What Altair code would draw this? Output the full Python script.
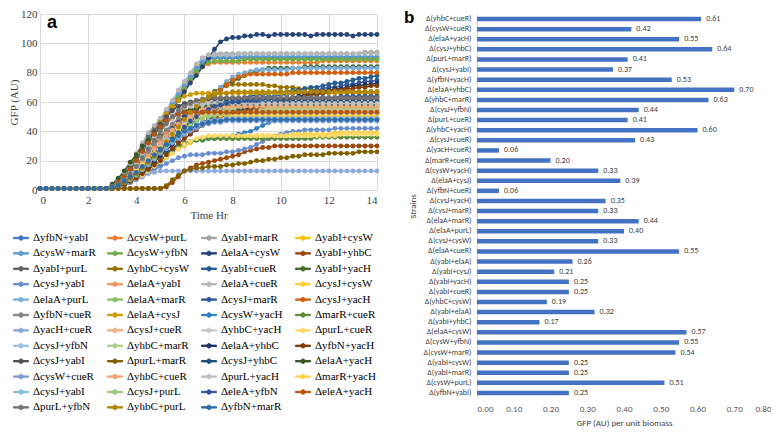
import altair as alt
import pandas as pd

TIME_HR = [i / 4 for i in range(57)]

STRAINS = [
    "ΔyfbN+yabI", "ΔcysW+purL", "ΔyabI+marR", "ΔyabI+cysW",
    "ΔcysW+marR", "ΔcysW+yfbN", "ΔelaA+cysW", "ΔyabI+yhbC",
    "ΔyabI+purL", "ΔyhbC+cysW", "ΔyabI+cueR", "ΔyabI+yacH",
    "ΔcysJ+yabI", "ΔelaA+yabI", "ΔelaA+cueR", "ΔcysJ+cysW",
    "ΔelaA+purL", "ΔelaA+marR", "ΔcysJ+marR", "ΔcysJ+yacH",
    "ΔyfbN+cueR", "ΔelaA+cysJ", "ΔcysW+yacH", "ΔmarR+cueR",
    "ΔyacH+cueR", "ΔcysJ+cueR", "ΔyhbC+yacH", "ΔpurL+cueR",
    "ΔcysJ+yfbN", "ΔyhbC+marR", "ΔelaA+yhbC", "ΔyfbN+yacH",
    "ΔcysJ+yabI~2", "ΔpurL+marR", "ΔcysJ+yhbC", "ΔelaA+yacH",
    "ΔcysW+cueR", "ΔyhbC+cueR", "ΔpurL+yacH", "ΔmarR+yacH",
    "ΔcysJ+yabI~3", "ΔcysJ+purL", "ΔeleA+yfbN", "ΔeleA+yacH",
    "ΔpurL+yfbN", "ΔyhbC+purL", "ΔyfbN+marR",
]

COLORS = [
    "#4472C4", "#ED7D31", "#A5A5A5", "#FFC000", "#5B9BD5", "#70AD47",
    "#264478", "#9E480E", "#636363", "#997300", "#255E91", "#43682B",
    "#698ED0", "#F1975A", "#B7B7B7", "#FFCD33", "#7CAFDD", "#8CC168",
    "#335AA1", "#D26012", "#848484", "#CC9A00", "#327DC2", "#5A8A39",
    "#8FAADC", "#F4B183", "#C9C9C9", "#FFD966", "#9DC3E6", "#A9D18E",
    "#203864", "#843C0C", "#525252", "#7F6000", "#1F4E79", "#385723",
    "#7F9CD5", "#F3A675", "#C0C0C0", "#FFD34D", "#8CB9E2", "#9BC97F",
    "#2F5597", "#B85310", "#747474", "#B38600", "#2C6DAA",
]

GFP = [
    [1,1,1,1, 1,1,1,1, 1,1,1,1,
     3,6,10,15, 21,28,34,40, 46,51,57,63, 69,75,81,86,
     89,90,90,90, 90,90,90,90, 90,90,90,90, 90,90,90,90, 90,90,90,90, 90,90,90,90, 90,90,90,90, 90],
    [1,1,1,1, 1,1,1,1, 1,1,1,1,
     2,5,9,14, 20,26,33,39, 45,50,56,62, 68,74,80,84,
     86,87,87,87, 87,87,87,87, 87,87,87,87, 87,87,87,87, 87,87,87,88, 88,88,88,88, 88,88,88,88, 88],
    [1,1,1,1, 1,1,1,1, 1,1,1,1,
     3,6,11,17, 24,31,38,43, 48,54,60,66, 72,79,85,90,
     92,93,93,93, 93,93,93,93, 93,93,93,93, 93,93,93,93, 93,93,93,93, 93,93,93,93, 93,93,94,94, 94],
    [1,1,1,1, 1,1,1,1, 1,1,1,1,
     2,4,7,10, 14,18,22,26, 30,34,38,41, 44,46,48,49,
     50,50,50,50, 50,50,50,50, 50,50,50,50, 50,50,50,50, 50,50,50,50, 50,50,50,50, 50,50,50,50, 50],
    [1,1,1,1, 1,1,1,1, 1,1,1,1,
     3,6,10,16, 22,29,36,42, 47,53,59,65, 71,77,83,88,
     90,91,91,91, 91,91,91,91, 91,91,91,91, 91,91,91,91, 91,91,91,91, 91,91,91,91, 91,91,91,91, 91],
    [1,1,1,1, 1,1,1,1, 1,1,1,1,
     2,5,9,14, 20,27,34,40, 45,51,57,63, 69,75,81,85,
     87,88,88,88, 88,88,89,89, 89,89,89,89, 89,89,89,89, 89,89,89,89, 89,89,89,89, 89,89,89,89, 89],
    [1,1,1,1, 1,1,1,1, 1,1,1,1,
     2,5,9,14, 20,26,32,38, 44,50,55,61, 67,73,78,84,
     90,96,101,103, 104,104,105,105, 106,106,105,106, 106,106,106,106, 106,105,106,106, 106,106,106,106, 105,106,106,106, 106],
    [1,1,1,1, 1,1,1,1, 1,1,1,1,
     1,1,1,1, 1,1,1,1, 1,2,5,9, 13,15,17,18,
     19,20,21,22, 23,24,26,27, 28,29,29,30, 30,30,30,30, 30,30,30,30, 30,30,30,30, 30,30,30,30, 30],
    [1,1,1,1, 1,1,1,1, 1,1,1,1,
     3,6,10,15, 22,30,37,43, 48,52,55,57, 58,59,59,60,
     60,60,60,60, 60,60,60,60, 60,60,60,60, 60,60,60,60, 60,60,60,60, 60,60,60,60, 60,60,60,60, 60],
    [1,1,1,1, 1,1,1,1, 1,1,1,1,
     1,2,3,5, 8,12,16,20, 25,30,35,40, 45,50,55,60,
     64,67,69,71, 72,72,72,72, 72,72,71,71, 70,70,70,69, 69,69,68,68, 68,68,68,68, 67,67,67,67, 67],
    [1,1,1,1, 1,1,1,1, 1,1,1,1,
     2,3,5,8, 11,14,18,22, 26,30,34,38, 42,45,48,51,
     54,56,58,60, 61,62,63,64, 65,65,66,66, 67,67,68,68, 69,70,70,71, 72,73,73,74, 75,76,76,77, 78],
    [1,1,1,1, 1,1,1,1, 1,1,1,1,
     3,7,11,16, 22,26,30,34, 37,40,43,46, 50,53,56,59,
     63,67,70,72, 74,76,78,80, 81,82,83,83, 83,83,83,83, 84,84,84,84, 84,84,84,84, 84,84,84,84, 84],
    [1,1,1,1, 1,1,1,1, 1,1,1,1,
     2,3,4,6, 8,10,12,14, 16,18,20,22, 23,24,24,24,
     25,25,25,26, 26,27,28,29, 31,33,35,37, 38,39,40,40, 41,41,41,41, 41,42,42,42, 42,42,42,42, 42],
    [1,1,1,1, 1,1,1,1, 1,1,1,1,
     2,4,7,11, 15,20,25,30, 35,39,43,47, 50,52,53,54,
     55,55,55,55, 55,55,55,55, 55,55,55,55, 55,55,55,55, 55,55,55,55, 55,55,55,55, 55,55,55,55, 55],
    [1,1,1,1, 1,1,1,1, 1,1,1,1,
     3,7,12,18, 25,32,39,44, 49,55,61,68, 74,80,86,90,
     92,92,92,92, 92,93,93,93, 93,93,93,93, 93,93,93,93, 93,93,93,93, 93,93,93,93, 93,93,93,93, 93],
    [1,1,1,1, 1,1,1,1, 1,1,1,1,
     2,3,5,6, 8,11,14,17, 20,23,25,28, 30,32,34,35,
     36,36,36,36, 36,36,36,36, 37,37,37,37, 37,37,38,38, 38,38,38,38, 38,39,39,39, 39,39,39,39, 39],
    [1,1,1,1, 1,1,1,1, 1,1,1,1,
     2,4,7,10, 14,18,22,26, 30,34,38,42, 46,50,54,58,
     62,66,70,74, 77,79,80,81, 82,82,82,82, 82,82,83,83, 83,83,83,83, 83,83,83,83, 83,83,83,83, 83],
    [1,1,1,1, 1,1,1,1, 1,1,1,1,
     2,3,5,8, 11,15,19,23, 27,31,35,39, 43,46,49,51,
     53,54,55,55, 56,56,56,56, 56,56,56,56, 56,56,56,56, 56,56,56,56, 56,56,56,56, 56,56,56,56, 56],
    [1,1,1,1, 1,1,1,1, 1,1,1,1,
     2,3,5,7, 10,13,17,21, 25,29,33,37, 41,44,47,50,
     52,54,56,58, 59,60,61,62, 63,63,64,64, 65,65,66,66, 67,67,68,69, 70,70,71,72, 72,73,74,74, 75],
    [1,1,1,1, 1,1,1,1, 1,1,1,1,
     2,4,6,9, 12,15,19,23, 27,31,35,39, 44,48,52,56,
     60,64,68,72, 75,77,78,79, 79,79,79,79, 79,79,80,80, 80,80,80,80, 80,80,80,80, 80,80,80,80, 80],
    [1,1,1,1, 1,1,1,1, 1,1,1,1,
     2,4,7,11, 16,21,26,31, 36,41,45,49, 52,54,56,57,
     58,58,58,58, 58,58,58,58, 58,58,58,58, 58,58,58,58, 58,58,58,58, 58,58,58,58, 58,58,58,58, 58],
    [1,1,1,1, 1,1,1,1, 1,1,1,1,
     2,5,9,14, 20,27,33,40, 46,52,57,61, 64,65,66,66,
     66,66,66,66, 66,66,66,66, 66,66,66,66, 66,66,66,66, 66,66,66,66, 66,66,66,66, 66,66,66,66, 66],
    [1,1,1,1, 1,1,1,1, 1,1,1,1,
     1,2,3,5, 7,9,12,15, 18,22,26,29, 31,33,34,34,
     35,35,36,36, 37,38,39,40, 42,44,46,47, 47,48,48,48, 48,48,48,48, 48,48,48,48, 48,48,48,48, 48],
    [1,1,1,1, 1,1,1,1, 1,1,1,1,
     2,4,6,9, 12,15,18,21, 24,26,28,30, 32,33,34,34,
     35,35,35,35, 35,35,35,35, 35,35,35,35, 35,35,35,35, 35,35,36,36, 36,36,36,36, 36,36,36,36, 36],
    [1,1,1,1, 1,1,1,1, 1,1,1,1,
     1,2,3,5, 7,9,11,12, 13,13,13,13, 13,13,13,13,
     13,13,13,13, 13,13,13,13, 13,13,13,13, 13,13,13,13, 13,13,13,13, 13,13,13,13, 13,13,13,13, 13],
    [1,1,1,1, 1,1,1,1, 1,1,1,1,
     2,3,6,9, 13,17,21,26, 30,35,39,43, 46,49,51,52,
     53,53,54,54, 54,54,54,54, 54,54,54,54, 54,54,54,54, 54,54,54,54, 54,54,54,54, 54,54,54,54, 54],
    [1,1,1,1, 1,1,1,1, 1,1,1,1,
     3,5,9,13, 19,25,31,37, 42,47,51,55, 58,59,60,60,
     61,61,61,61, 61,61,61,61, 61,61,61,61, 61,61,61,61, 61,61,61,61, 61,61,61,61, 61,61,61,61, 61],
    [1,1,1,1, 1,1,1,1, 1,1,1,1,
     2,3,4,6, 8,10,13,16, 19,22,25,28, 31,33,35,36,
     37,37,37,37, 37,37,37,37, 37,37,37,37, 37,37,37,37, 37,37,37,37, 37,37,38,38, 38,38,38,38, 38],
    [1,1,1,1, 1,1,1,1, 1,1,1,1,
     2,4,7,10, 14,18,22,27, 31,35,39,42, 45,47,49,50,
     51,51,52,52, 52,52,52,52, 52,52,52,52, 52,52,52,52, 52,52,52,52, 52,52,52,52, 52,52,52,52, 52],
    [1,1,1,1, 1,1,1,1, 1,1,1,1,
     2,4,6,9, 12,16,20,24, 28,32,36,40, 44,47,49,51,
     52,53,54,54, 55,55,55,55, 55,55,55,55, 55,55,55,55, 55,55,55,55, 55,55,55,55, 55,55,55,55, 55],
    [1,1,1,1, 1,1,1,1, 1,1,1,1,
     2,3,4,6, 9,12,15,19, 23,27,31,35, 38,41,44,46,
     48,50,51,52, 53,54,55,56, 57,58,59,60, 61,62,63,64, 65,66,66,67, 68,69,69,70, 71,71,72,72, 73],
    [1,1,1,1, 1,1,1,1, 1,1,1,1,
     1,2,4,6, 8,11,14,17, 20,24,28,32, 35,38,41,44,
     46,48,50,51, 52,53,54,55, 56,57,58,59, 60,61,62,63, 64,65,65,66, 67,68,68,69, 69,70,70,71, 71],
    [1,1,1,1, 1,1,1,1, 1,1,1,1,
     2,5,9,14, 20,27,34,40, 45,50,54,57, 59,60,61,61,
     62,62,62,62, 62,62,62,62, 62,62,62,62, 62,62,62,62, 62,62,62,62, 62,62,62,62, 62,62,62,62, 62],
    [1,1,1,1, 1,1,1,1, 1,1,1,1,
     1,1,1,1, 1,1,1,1, 1,3,7,10, 13,14,15,15,
     16,16,16,17, 17,18,18,19, 20,20,21,21, 22,22,23,23, 24,24,24,24, 25,25,25,25, 25,26,26,26, 26],
    [1,1,1,1, 1,1,1,1, 1,1,1,1,
     2,3,6,9, 13,17,22,27, 32,37,42,46, 50,53,55,57,
     58,59,59,60, 60,60,60,60, 60,60,60,60, 60,60,60,60, 60,60,60,60, 60,60,60,60, 60,60,60,60, 60],
    [1,1,1,1, 1,1,1,1, 1,1,1,1,
     4,8,13,19, 24,30,34,38, 42,46,49,52, 54,55,56,57,
     57,57,58,58, 58,58,58,58, 58,58,58,58, 58,58,58,58, 58,58,58,58, 58,58,58,58, 58,58,58,58, 58],
    [1,1,1,1, 1,1,1,1, 1,1,1,1,
     2,3,5,8, 11,14,17,21, 25,28,32,35, 38,40,42,44,
     45,46,46,47, 47,47,47,47, 47,47,47,47, 47,47,47,47, 47,47,47,47, 47,47,47,47, 47,47,47,47, 47],
    [1,1,1,1, 1,1,1,1, 1,1,1,1,
     2,4,6,10, 14,18,23,28, 32,37,41,45, 48,51,53,55,
     56,56,57,57, 57,57,57,57, 57,57,57,57, 57,57,57,57, 57,57,57,57, 57,57,57,57, 57,57,57,57, 57],
    [1,1,1,1, 1,1,1,1, 1,1,1,1,
     2,4,8,12, 17,23,29,35, 40,45,49,53, 56,57,58,58,
     59,59,59,59, 59,59,59,59, 59,59,59,59, 59,59,59,59, 59,59,59,59, 59,59,59,59, 59,59,59,59, 59],
    [1,1,1,1, 1,1,1,1, 1,1,1,1,
     2,3,6,9, 13,17,21,25, 29,33,37,41, 44,47,49,50,
     51,51,51,51, 51,51,51,51, 51,51,51,51, 51,51,51,51, 51,51,51,51, 51,51,51,51, 51,51,51,51, 51],
    [1,1,1,1, 1,1,1,1, 1,1,1,1,
     2,3,5,8, 11,14,18,22, 26,30,33,36, 39,42,44,46,
     47,48,48,49, 49,49,49,49, 49,49,49,49, 49,49,49,49, 49,49,49,49, 49,49,49,49, 49,49,49,49, 49],
    [1,1,1,1, 1,1,1,1, 1,1,1,1,
     2,3,5,7, 10,14,18,22, 26,30,34,38, 41,44,47,49,
     50,51,52,52, 53,53,53,53, 53,53,53,53, 53,53,53,53, 53,53,53,53, 53,53,53,53, 53,53,53,53, 53],
    [1,1,1,1, 1,1,1,1, 1,1,1,1,
     2,3,5,8, 11,15,19,23, 27,31,35,39, 43,47,50,53,
     55,57,58,59, 60,60,61,61, 61,62,62,62, 62,62,63,63, 63,63,63,63, 63,63,64,64, 64,64,64,64, 64],
    [1,1,1,1, 1,1,1,1, 1,1,1,1,
     2,5,9,14, 20,26,32,38, 43,47,50,52, 53,53,53,53,
     53,53,53,53, 53,53,53,53, 53,53,53,53, 53,53,53,53, 53,53,53,53, 53,53,53,53, 53,53,53,53, 53],
    [1,1,1,1, 1,1,1,1, 1,1,1,1,
     2,4,7,11, 16,22,28,34, 40,45,50,54, 57,59,61,62,
     63,63,63,63, 63,63,63,63, 63,63,63,63, 63,63,63,63, 63,63,63,63, 63,63,63,63, 63,63,63,63, 63],
    [1,1,1,1, 1,1,1,1, 1,1,1,1,
     2,3,5,8, 11,15,19,23, 28,33,38,43, 48,53,57,61,
     63,65,66,66, 67,67,67,67, 67,67,67,67, 67,67,67,67, 67,67,67,67, 67,67,67,67, 67,67,67,67, 67],
    [1,1,1,1, 1,1,1,1, 1,1,1,1,
     2,3,6,9, 12,16,20,24, 28,31,34,37, 40,42,44,45,
     46,47,47,48, 48,48,48,48, 48,48,48,48, 48,48,48,48, 48,48,48,48, 48,48,48,48, 48,48,48,48, 48],
]

BAR_STRAINS = [
    "Δ(yhbC+cueR)", "Δ(cysW+cueR)", "Δ(elaA+yacH)", "Δ(cysJ+yhbC)", "Δ(purL+marR)",
    "Δ(cysJ+yabI)", "Δ(yfbN+yacH)", "Δ(elaA+yhbC)", "Δ(yhbC+marR)", "Δ(cysJ+yfbN)",
    "Δ(purL+cueR)", "Δ(yhbC+yacH)", "Δ(cysJ+cueR)", "Δ(yacH+cueR)", "Δ(marR+cueR)",
    "Δ(cysW+yacH)", "Δ(elaA+cysJ)", "Δ(yfbN+cueR)", "Δ(cysJ+yacH)", "Δ(cysJ+marR)",
    "Δ(elaA+marR)", "Δ(elaA+purL)", "Δ(cysJ+cysW)", "Δ(elaA+cueR)", "Δ(yabI+elaA)",
    "Δ(yabI+cysJ)", "Δ(yabI+yacH)", "Δ(yabI+cueR)", "Δ(yhbC+cysW)", "Δ(yabI+elaA)~2",
    "Δ(yabI+yhbC)", "Δ(elaA+cysW)", "Δ(cysW+yfbN)", "Δ(cysW+marR)", "Δ(yabI+cysW)",
    "Δ(yabI+marR)", "Δ(cysW+purL)", "Δ(yfbN+yabI)",
]
BAR_VALUES = [
    0.61, 0.42, 0.55, 0.64, 0.41, 0.37, 0.53, 0.70, 0.63, 0.44,
    0.41, 0.60, 0.43, 0.06, 0.20, 0.33, 0.39, 0.06, 0.35, 0.33,
    0.44, 0.40, 0.33, 0.55, 0.26, 0.21, 0.25, 0.25, 0.19, 0.32,
    0.17, 0.57, 0.55, 0.54, 0.25, 0.25, 0.51, 0.25,
]

for g in GFP:
    assert len(g) == len(TIME_HR), len(g)
assert len(GFP) == len(STRAINS) == len(COLORS)
assert len(BAR_STRAINS) == len(BAR_VALUES)

rows = []
for k, name in enumerate(STRAINS):
    for t, v in zip(TIME_HR, GFP[k]):
        rows.append({"strain": name, "k": k, "t": t, "gfp": v})
line_df = pd.DataFrame(rows)

SERIF = "Liberation Serif"
SANS = "Carlito, Lato"
STRIP = "split(datum.label, '~')[0]"
SYM = "M-1,-0.09L1,-0.09L1,0.09L-1,0.09Z M0.3,0A0.3,0.3 0 1,1 -0.3,0A0.3,0.3 0 1,1 0.3,0Z"

legend = alt.Legend(
    title=None, orient="none", legendX=-27, legendY=216, columns=4,
    direction="horizontal", symbolLimit=60,
    labelFont=SERIF, labelFontSize=11, labelColor="#000000", labelExpr=STRIP,
    labelLimit=300, labelOffset=4, symbolType=SYM, symbolSize=225,
    symbolStrokeWidth=1, columnPadding=9, rowPadding=2.4, gridAlign="all",
)
color = alt.Color("strain:N", scale=alt.Scale(domain=STRAINS, range=COLORS),
                  sort=STRAINS, legend=legend)

x_l = alt.X("t:Q", title="Time Hr", scale=alt.Scale(domain=[0, 14], nice=False),
            axis=alt.Axis(values=[0, 2, 4, 6, 8, 10, 12, 14], format="d", grid=True,
                          gridColor="#d9d9d9", domain=False, ticks=False,
                          labelFont=SERIF, labelFontSize=11, labelColor="#404040",
                          titleFont=SERIF, titleFontSize=11, titleFontWeight="normal",
                          titleColor="#404040", labelPadding=4, titlePadding=4))
y_l = alt.Y("gfp:Q", title="GFP (AU)", scale=alt.Scale(domain=[0, 120], nice=False),
            axis=alt.Axis(values=[0, 20, 40, 60, 80, 100, 120], grid=True,
                          gridColor="#d9d9d9", domain=False, ticks=False,
                          labelFont=SERIF, labelFontSize=11, labelColor="#404040",
                          titleFont=SERIF, titleFontSize=11, titleFontWeight="normal",
                          titleColor="#404040", labelPadding=3, titlePadding=1))

base = alt.Chart(line_df).encode(x=x_l, y=y_l, color=color)
lines = base.mark_line(strokeWidth=1.5)
points = base.mark_circle(size=24, opacity=1).encode(order="k:Q")
tag_a = alt.Chart(pd.DataFrame({"panel": ["a"]})).mark_text(
    align="left", baseline="middle", fontSize=18, fontWeight="bold",
    font="Liberation Sans", color="#000000",
).encode(x=alt.value(7), y=alt.value(9), text="panel:N")

left = alt.layer(lines, points, tag_a).properties(width=337, height=176)

bar_df = pd.DataFrame({"strain": BAR_STRAINS, "value": BAR_VALUES})
y_b = alt.Y("strain:N", sort=BAR_STRAINS, title="Strains",
            scale=alt.Scale(paddingInner=0, paddingOuter=0),
            axis=alt.Axis(labelExpr=STRIP, ticks=False, domain=True, domainColor="#d9d9d9",
                          labelFont=SANS, labelFontSize=8, labelColor="#404040",
                          titleFont=SANS, titleFontSize=9, titleFontWeight="normal",
                          titleColor="#404040", labelPadding=6, titlePadding=6))
x_b = alt.X("value:Q", title="GFP (AU) per unit biomass",
            scale=alt.Scale(domain=[0, 0.8], nice=False),
            axis=alt.Axis(values=[0, 0.1, 0.2, 0.3, 0.4, 0.5, 0.6, 0.7, 0.8], format=".2f",
                          grid=False, domain=False, ticks=False,
                          labelFont=SANS, labelFontSize=9, labelColor="#595959",
                          titleFont=SANS, titleFontSize=9, titleFontWeight="normal",
                          titleColor="#404040", labelPadding=6, titlePadding=5))
bars = alt.Chart(bar_df).mark_bar(size=4.5, color="#4472C4").encode(x=x_b, y=y_b)
vals = alt.Chart(bar_df).mark_text(align="left", baseline="middle", dx=5, fontSize=8,
                                   font=SANS, color="#404040").encode(
    x=x_b, y=y_b, text=alt.Text("value:Q", format=".2f"))
tag_b = alt.Chart(pd.DataFrame({"panel": ["b"]})).mark_text(
    align="left", baseline="middle", fontSize=17, fontWeight="bold",
    font="Liberation Sans", color="#000000",
).encode(x=alt.value(-73), y=alt.value(4), text="panel:N")

right = alt.layer(bars, vals, tag_b).properties(width=294, height=384)

chart = alt.hconcat(left, right, spacing=24).properties(
    padding=0, background="white"
).configure_view(stroke=None)

chart.save("out.html", embed_options={"renderer": "svg", "actions": False})
